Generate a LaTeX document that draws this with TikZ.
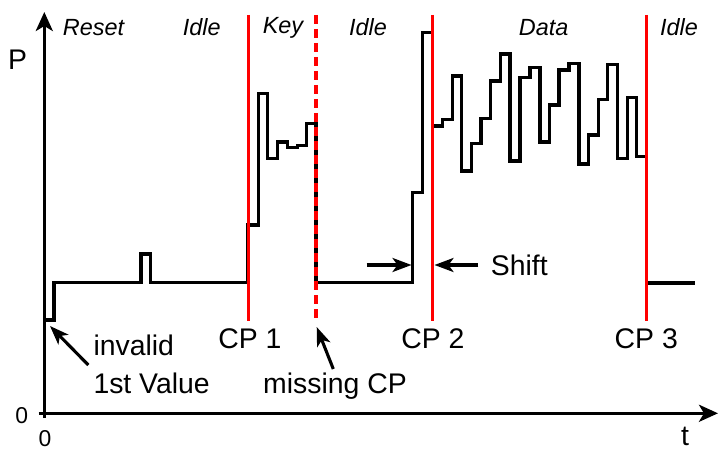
\documentclass[tikz,border=0pt]{standalone}
\usepackage{fontspec}
\setmainfont{Liberation Sans}
\usetikzlibrary{arrows.meta}
\begin{document}
\begin{tikzpicture}[x=1bp,y=-1bp,
  trace/.style={line width=3.2bp, line join=miter},
  cpline/.style={red, line width=3.1bp},
  axisline/.style={line width=3.4bp, -{Stealth[length=19bp,width=17bp,inset=5bp]}},
  note/.style={line width=3.1bp, -{Stealth[length=19bp,width=14bp,inset=5bp]}},
  big/.style={font=\fontsize{28.5}{30}\selectfont, inner sep=0pt, anchor=base},
  ticklabel/.style={font=\fontsize{23}{25}\selectfont, inner sep=0pt, anchor=base},
  phase/.style={font=\fontsize{23.5}{26}\selectfont\itshape, inner sep=0pt, anchor=base},
]
\useasboundingbox (0,0) rectangle (718,450);

% axes
\draw[axisline] (44.3,418) -- (44.3,12);
\draw[axisline] (38.5,413.3) -- (718,413.3);
\node[big, anchor=base west] (plabel) at (8,70) {P};
\node[big] (tlabel) at (685,445) {t};
\node[ticklabel] (zeroy) at (21.7,423.5) {0};
\node[ticklabel] (zerox) at (45,446) {0};

% power trace
\draw[trace]
  (44.3,320) -- (54,320) -- (54,282.7) -- (141,282.7) -- (141,254)
  -- (150.7,254) -- (150.7,282.7) -- (248,282.7) -- (248,225)
  -- (258.3,225) -- (258.3,93.3) -- (267.7,93.3) -- (267.7,158.3)
  -- (277.7,158.3) -- (277.7,142) -- (287.3,142) -- (287.3,147.7)
  -- (297.7,147.7) -- (297.7,145.7) -- (306.7,145.7) -- (306.7,123.3)
  -- (316,123.3) -- (316,282.7) -- (412.7,282.7) -- (412.7,192.3)
  -- (422.7,192.3) -- (422.7,32.3) -- (432.7,32.3) -- (432.7,126)
  -- (442.7,126) -- (442.7,119.3) -- (452.7,119.3) -- (452.7,76)
  -- (461.7,76) -- (461.7,171) -- (471.7,171) -- (471.7,143.3)
  -- (481,143.3) -- (481,118.3) -- (490.7,118.3) -- (490.7,81)
  -- (500.7,81) -- (500.7,54) -- (510,54) -- (510,161)
  -- (520,161) -- (520,77.3) -- (530,77.3) -- (530,67.3)
  -- (540,67.3) -- (540,142) -- (549.5,142) -- (549.5,105)
  -- (559,105) -- (559,70) -- (569,70) -- (569,63.7)
  -- (579,63.7) -- (579,164) -- (588.3,164) -- (588.3,135)
  -- (598.3,135) -- (598.3,99.3) -- (607.5,99.3) -- (607.5,64.7)
  -- (617.5,64.7) -- (617.5,158.5) -- (627.3,158.5) -- (627.3,97.5)
  -- (636.7,97.5) -- (636.7,156.3) -- (646.5,156.3) -- (646.5,283)
  -- (694.7,283);

% change points
\draw[cpline] (248.3,15) -- (248.3,320.7);
\draw[cpline, dash pattern=on 9bp off 5bp] (316,15) -- (316,320.7);
\draw[cpline] (432.7,15) -- (432.7,320.7);
\draw[cpline] (646.5,15) -- (646.5,320.7);

\node[big] (cp1) at (250,349) {CP 1};
\node[big] (cp2) at (433,349) {CP 2};
\node[big] (cp3) at (646.3,349) {CP 3};

% phase names
\node[phase] (reset) at (93.5,35.5) {Reset};
\node[phase] (idle1) at (201.7,35.5) {Idle};
\node[phase] (key) at (283,33.5) {Key};
\node[phase] (idle2) at (368,35.5) {Idle};
\node[phase] (data) at (543.7,35.5) {Data};
\node[phase] (idle3) at (679,35.5) {Idle};

% annotations
\node[big, anchor=base west] (invalid) at (93.3,355.7) {invalid};
\node[big, anchor=base west] (firstval) at (93.3,393.3) {1st Value};
\coordinate (invtail) at (88.3,365);
\coordinate (invtip) at (50,326);
\draw[note] (invtail) -- (invtip);

\node[big] (missing) at (335,393.3) {missing CP};
\coordinate (misstail) at (333.3,369);
\coordinate (misstip) at (316.7,327);
\draw[note] (misstail) -- (misstip);

\node[big, anchor=base west] (shift) at (490.7,275.5) {Shift};
\coordinate (shiftLtail) at (366.7,265);
\coordinate (shiftLtip) at (411.5,265);
\coordinate (shiftRtail) at (478.3,265);
\coordinate (shiftRtip) at (434.5,265);
\draw[note] (shiftLtail) -- (shiftLtip);
\draw[note] (shiftRtail) -- (shiftRtip);
\end{tikzpicture}
\end{document}
